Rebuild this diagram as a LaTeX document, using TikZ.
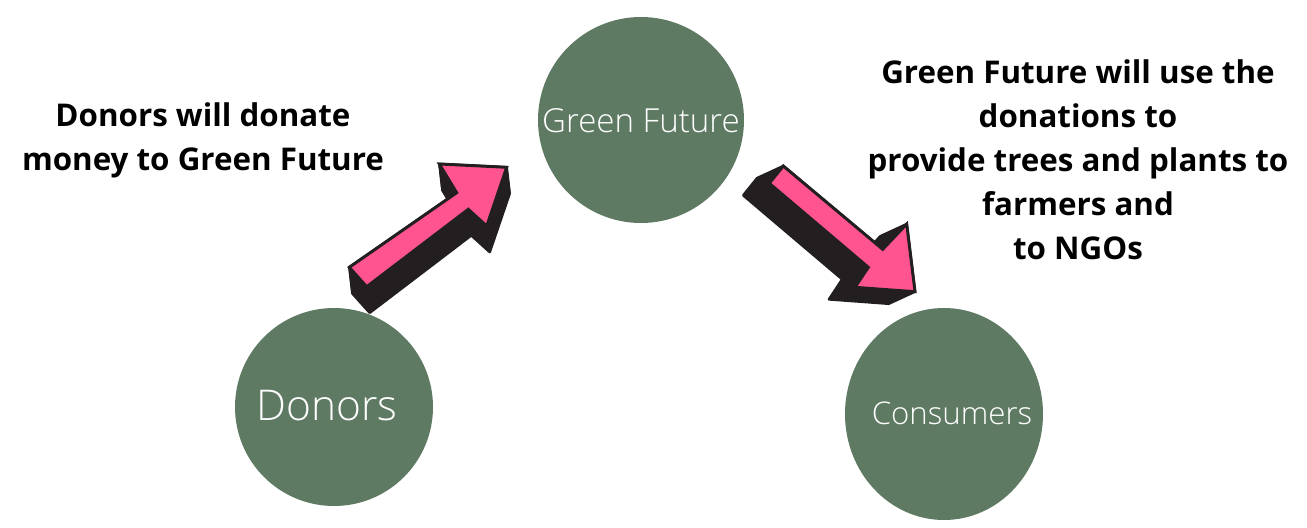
\documentclass[tikz,border=0pt]{standalone}
\usepackage{fontspec}
\setmainfont{Open Sans}
\newfontfamily\thinsans{Open Sans Light}
\usetikzlibrary{positioning,shapes.geometric}
\definecolor{LeafGreen}{RGB}{94,122,99}
\definecolor{HotPink}{RGB}{255,84,144}
\definecolor{InkBlack}{RGB}{35,31,32}

\begin{document}
\begin{tikzpicture}[x=0.75pt,y=-0.75pt,
        circ/.style={circle,fill=LeafGreen,text=white,inner sep=0pt},
        circlab/.style={text=white,inner sep=0pt},
        note/.style={font=\fontsize{23.5}{33}\selectfont\bfseries,align=center,text=black},
        extrude/.style={fill=InkBlack,draw=InkBlack,line width=2pt,line join=round},
        face/.style={fill=HotPink,draw=InkBlack,line width=2.2pt,line join=miter}
      ]
        \useasboundingbox (0,0) rectangle (1307,528);
        % the three parties
        \node[circ,minimum size=154.5pt] (gf) at (641,120) {};
        \node[circ,minimum size=148.5pt] (donors) at (334,407) {};
        \node[circ,ellipse,minimum width=148.5pt,minimum height=159pt] (cons) at (944,414) {};
        \node[circlab,font=\thinsans\fontsize{24.8}{26}\selectfont] (gflab) at (641,121) {Green Future};
        \node[circlab,font=\thinsans\fontsize{31.8}{34}\selectfont] (donlab) at (327,406) {Donors};
        \node[circlab,font=\thinsans\fontsize{23.4}{25}\selectfont] (conslab) at (952,413) {Consumers};
        % captions
        \node[note] (give) at (203,140) {Donors will donate\\money to Green Future};
        \node[note] (use) at (1078,160) {Green Future will use the\\donations to\\provide trees and plants to\\farmers and\\to NGOs};
        % arrow donors -> green future
        \foreach \t in {0,...,20}
          \path[extrude,shift={(0.15*\t,1.3*\t)}] (349.3,267.3) -- (366.7,286.7) -- (468.3,209.3) -- (486.7,226)
            -- (506.7,167.3) -- (439.3,164) -- (456.7,192.7) -- cycle;
        \path[face] (349.3,267.3) -- (366.7,286.7) -- (468.3,209.3) -- (486.7,226)
            -- (506.7,167.3) -- (439.3,164) -- (456.7,192.7) -- cycle;
        % arrow green future -> consumers
        \foreach \t in {0,...,20}
          \path[extrude,shift={(-1.3*\t,0.6*\t)}] (783.3,166) -- (769.3,183.3) -- (868.3,267.3) -- (855,287.3)
            -- (915,291.7) -- (906.7,224) -- (882.7,249.3) -- cycle;
        \path[face] (783.3,166) -- (769.3,183.3) -- (868.3,267.3) -- (855,287.3)
            -- (915,291.7) -- (906.7,224) -- (882.7,249.3) -- cycle;
      \end{tikzpicture}
\end{document}
